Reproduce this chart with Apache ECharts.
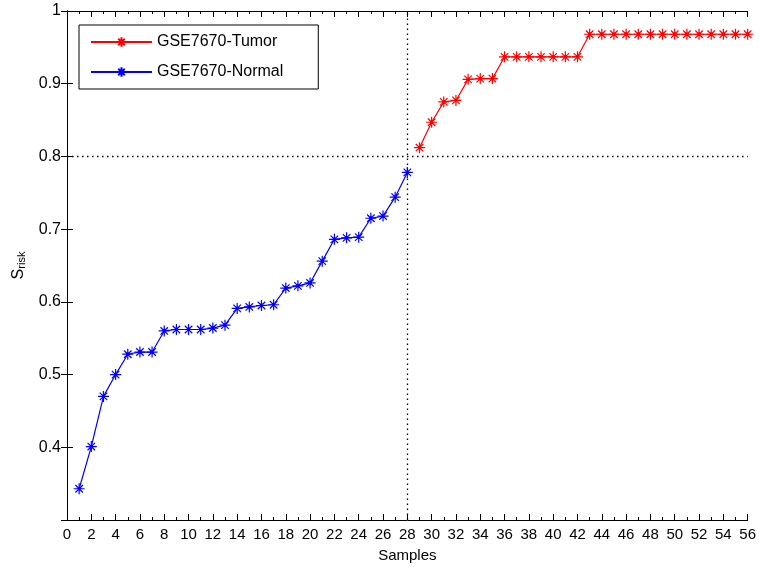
<!DOCTYPE html>
<html>
<head>
<meta charset="utf-8">
<script src="https://cdn.jsdelivr.net/npm/echarts@6/dist/echarts.min.js"></script>
<style>html,body{margin:0;padding:0;background:#fff}#c{width:759px;height:569px}</style>
</head>
<body>
<div id="c"></div>
<script>
// Data
const normalName = 'GSE7670-Normal';
const tumorName = 'GSE7670-Tumor';
const normalValues = [0.343, 0.401, 0.470, 0.500, 0.528, 0.531, 0.531, 0.560, 0.562, 0.562,
  0.562, 0.564, 0.568, 0.591, 0.593, 0.595, 0.596, 0.619, 0.622, 0.626,
  0.656, 0.686, 0.688, 0.689, 0.715, 0.718, 0.744, 0.778];
const tumorValues = [0.812, 0.847, 0.875, 0.877, 0.906, 0.907, 0.907, 0.937, 0.937, 0.937,
  0.937, 0.937, 0.937, 0.937, 0.968, 0.968, 0.968, 0.968, 0.968, 0.968,
  0.968, 0.968, 0.968, 0.968, 0.968, 0.968, 0.968, 0.968];
const thresholdY = 0.8;
const thresholdX = 28;

const normalData = normalValues.map((v, i) => [i + 1, v]);
const tumorData = tumorValues.map((v, i) => [normalValues.length + i + 1, v]);

const star = 'path://M5,0L5,10M0,5L10,5M1.6,1.6L8.4,8.4M1.6,8.4L8.4,1.6M6.2,5A1.2,1.2 0 1,1 3.8,5A1.2,1.2 0 1,1 6.2,5Z';
const font = 'Liberation Sans, Arial, sans-serif';

const chart = echarts.init(document.getElementById('c'), null, {renderer: 'canvas'});
const xCommon = {
  type: 'value', min: 0, max: 56, interval: 2,
  axisLine: {show: true, lineStyle: {color: '#000', width: 1}},
  axisTick: {show: true, inside: true, length: 6, lineStyle: {color: '#000'}},
  minorTick: {show: true, splitNumber: 2, length: 3, lineStyle: {color: '#000'}},
  splitLine: {show: false}
};
const yCommon = {
  type: 'value', min: 0.3, max: 1, interval: 0.1,
  axisLine: {show: true, lineStyle: {color: '#000', width: 1}},
  axisTick: {show: true, inside: true, length: 6, lineStyle: {color: '#000'}},
  splitLine: {show: false}
};
chart.setOption({
  animation: false,
  backgroundColor: '#fff',
  textStyle: {fontFamily: font},
  grid: {left: 57, right: 11, top: 11, bottom: 49, containLabel: false},
  legend: {
    left: 79, top: 25,
    orient: 'vertical',
    data: [tumorName, normalName],
    backgroundColor: '#fff',
    borderColor: '#000', borderWidth: 1, borderRadius: 0,
    padding: [9, 35, 9, 11],
    itemWidth: 61, itemHeight: 12, itemGap: 14,
    textStyle: {fontSize: 16, color: '#000', fontFamily: font}
  },
  xAxis: [
    Object.assign({}, xCommon, {
      position: 'bottom',
      name: 'Samples', nameLocation: 'middle', nameGap: 28,
      nameTextStyle: {fontSize: 15, color: '#000', fontFamily: font},
      axisLabel: {show: true, fontSize: 15, color: '#000', margin: 7, fontFamily: font}
    }),
    Object.assign({}, xCommon, {position: 'top', axisLabel: {show: false}})
  ],
  yAxis: [
    Object.assign({}, yCommon, {
      position: 'left',
      name: '{s|S}{sub|risk}', nameLocation: 'middle', nameGap: 40,
      nameTextStyle: {
        color: '#000', fontFamily: font,
        rich: {
          s: {fontSize: 16, lineHeight: 16, verticalAlign: 'top', color: '#000', fontFamily: font},
          sub: {fontSize: 11, lineHeight: 11, verticalAlign: 'bottom', padding: [8, 0, 0, 0], color: '#000', fontFamily: font}
        }
      },
      axisLabel: {
        show: true, fontSize: 16, color: '#000', margin: 6, fontFamily: font,
        formatter: v => (v < 0.35 ? '' : String(Math.round(v * 10) / 10))
      }
    }),
    Object.assign({}, yCommon, {position: 'right', axisLabel: {show: false}})
  ],
  series: [
    {
      name: tumorName, type: 'line', data: tumorData,
      xAxisIndex: 0, yAxisIndex: 0,
      symbol: star, symbolSize: 11,
      lineStyle: {color: '#ff0000', width: 1.2},
      itemStyle: {color: '#ff0000', borderColor: '#ff0000', borderWidth: 1.2},
      z: 3
    },
    {
      name: normalName, type: 'line', data: normalData,
      xAxisIndex: 0, yAxisIndex: 0,
      symbol: star, symbolSize: 11,
      lineStyle: {color: '#0000ff', width: 1.2},
      itemStyle: {color: '#0000ff', borderColor: '#0000ff', borderWidth: 1.2},
      z: 3,
      markLine: {
        silent: true, symbol: ['none', 'none'],
        label: {show: false},
        lineStyle: {color: '#000', type: [1.5, 3.5], width: 1.3},
        data: [{yAxis: thresholdY}, {xAxis: thresholdX}]
      }
    }
  ]
});
</script>
</body>
</html>
